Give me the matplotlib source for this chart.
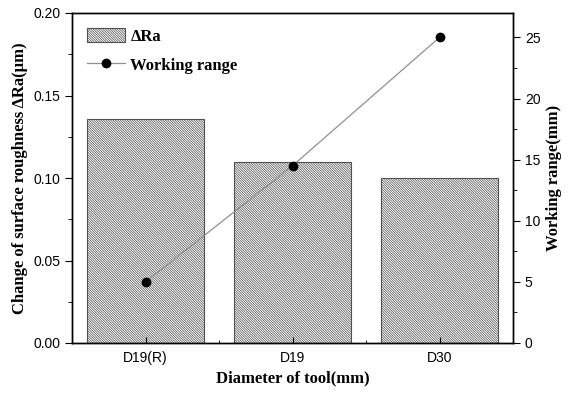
import matplotlib
matplotlib.use('Agg')
import matplotlib.pyplot as plt
from matplotlib.ticker import MultipleLocator, FixedLocator

# data
tools = ["D19(R)", "D19", "D30"]
delta_ra = [0.136, 0.110, 0.100]
working_range = [5.0, 14.5, 25.0]

plt.rcParams['hatch.linewidth'] = 0.5
plt.rcParams['hatch.color'] = '#808080'

serif = ['Liberation Serif', 'DejaVu Serif']
sans = ['Liberation Sans', 'DejaVu Sans']

fig = plt.figure(figsize=(5.78, 3.94), dpi=100)
ax1 = fig.add_axes([72 / 578, 1 - 343 / 394, 441 / 578, 330 / 394])
ax2 = ax1.twinx()

x = list(range(len(tools)))
ax1.bar(x, delta_ra, width=0.8, facecolor='white', edgecolor='#505050',
        hatch='\\' * 14, linewidth=0.8, label='ΔRa')
ax2.plot(x, working_range, color='#909090', linewidth=0.9, marker='o',
         markersize=6, markerfacecolor='black', markeredgecolor='black',
         label='Working range')

ax1.set_xlim(-0.5, 2.5)
ax1.set_ylim(0, 0.20)
ax2.set_ylim(0, 27)

ax1.set_xticks(x)
ax1.set_xticklabels(tools, family=sans, fontsize=10)
ax1.xaxis.set_minor_locator(FixedLocator([0.5, 1.5]))
ax1.tick_params(axis='x', which='both', direction='in', top=False)
ax1.tick_params(axis='x', which='major', length=4, pad=6)
ax1.tick_params(axis='x', which='minor', length=2)

ax1.yaxis.set_major_locator(MultipleLocator(0.05))
ax1.yaxis.set_minor_locator(MultipleLocator(0.025))
ax1.tick_params(axis='y', which='major', direction='out', length=5, labelsize=10)
ax1.tick_params(axis='y', which='minor', direction='out', length=3)
ax1.set_yticks([0, 0.05, 0.10, 0.15, 0.20])
ax1.set_yticklabels(["0.00", "0.05", "0.10", "0.15", "0.20"], family=sans)

ax2.yaxis.set_minor_locator(MultipleLocator(2.5))
ax2.tick_params(axis='y', which='major', direction='out', length=5, labelsize=10)
ax2.tick_params(axis='y', which='minor', direction='out', length=3)
ax2.set_yticks([0, 5, 10, 15, 20, 25])
ax2.set_yticklabels(["0", "5", "10", "15", "20", "25"], family=sans)

ax1.set_xlabel("Diameter of tool(mm)", family=serif, fontweight='bold', fontsize=12)
ax1.set_ylabel("Change of surface roughness ΔRa(μm)", family=serif,
               fontweight='bold', fontsize=12)
ax2.set_ylabel("Working range(mm)", family=serif, fontweight='bold', fontsize=12)

h1, l1 = ax1.get_legend_handles_labels()
h2, l2 = ax2.get_legend_handles_labels()
ax1.legend(h1 + h2, l1 + l2, loc='upper left', frameon=False,
           prop={'family': serif, 'weight': 'bold', 'size': 12},
           handlelength=2.3, handleheight=0.9, labelspacing=0.75,
           handletextpad=0.3, borderaxespad=0.5)

for ax in (ax1, ax2):
    for s in ax.spines.values():
        s.set_linewidth(1.0)

fig.savefig("out.png", dpi=100)
